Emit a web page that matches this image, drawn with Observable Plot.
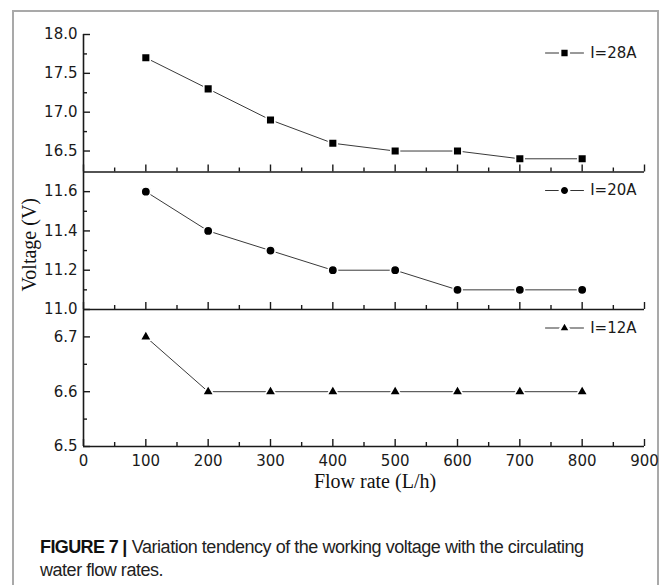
<!DOCTYPE html>
<html>
<head>
<meta charset="utf-8">
<script src="https://cdn.jsdelivr.net/npm/d3@7"></script>
<script src="https://cdn.jsdelivr.net/npm/@observablehq/plot@0.6"></script>
<style>
  html, body { margin: 0; padding: 0; background: #fff; }
  #fig { position: relative; width: 665px; height: 585px; overflow: hidden; background: #fff; }
  #frame { position: absolute; left: 12px; top: 10px; width: 647px; height: 620px;
           border: 2px solid #a9a9a9; box-sizing: border-box; }
  #fig svg { position: absolute; left: 0; top: 0; }
  #caption { position: absolute; left: 40px; top: 536px; width: 620px;
             font-family: "Liberation Sans", Arial, sans-serif;
             font-size: 18px; line-height: 23px; color: #222; letter-spacing: -0.47px; }
  #caption b { font-weight: bold; color: #111; font-size: 18px; letter-spacing: -0.6px; }
  #caption .bar { font-weight: bold; color: #111; margin: 0 5px 0 4px; }
</style>
</head>
<body>
<div id="fig">
  <div id="frame"></div>
  <div id="caption"><b>FIGURE 7</b><span class="bar">|</span>Variation tendency of the working voltage with the circulating<br>water flow rates.</div>
</div>
<script>
// Flow rate (L/h) at which the voltage was measured
const flowRates = [100, 200, 300, 400, 500, 600, 700, 800];

// Working voltage (V) for each current
const volt28A = [17.7, 17.3, 16.9, 16.6, 16.5, 16.5, 16.4, 16.4];
const volt20A = [11.6, 11.4, 11.3, 11.2, 11.2, 11.1, 11.1, 11.1];
const volt12A = [6.7, 6.6, 6.6, 6.6, 6.6, 6.6, 6.6, 6.6];

// Series labels and marker symbols
const seriesLabels = ["I=28A", "I=20A", "I=12A"];
const seriesSymbols = ["square", "circle", "triangle"];

// Y-axis ranges and tick values of the three stacked panels
const yDomains = [[16.23, 18.0], [11.0, 11.7], [6.5, 6.75]];
const yMajorTicks = [[16.5, 17.0, 17.5, 18.0], [11.0, 11.2, 11.4, 11.6], [6.5, 6.6, 6.7]];
const yMinorTicks = [[16.75, 17.25, 17.75], [11.1, 11.3, 11.5], [6.55, 6.65]];
const yTickFormats = [".1f", ".1f", ".1f"];

// X-axis range and ticks
const xDomain = [0, 900];
const xMajorTicks = [0, 100, 200, 300, 400, 500, 600, 700, 800, 900];
const xMinorTicks = [50, 150, 250, 350, 450, 550, 650, 750, 850];

const xLabel = "Flow rate (L/h)";
const yLabel = "Voltage (V)";

const seriesValues = [volt28A, volt20A, volt12A];

// Page layout: every panel is a full-page transparent SVG whose frame
// is one horizontal band of the stacked chart.
const W = 665, H = 585;
const bandEdges = [34, 171.5, 309, 446];
const markerR = { square: 4.9, circle: 4.7, triangle: 4.3 };

const sansFont = '"DejaVu Sans", Verdana, sans-serif';
const serifFont = '"Liberation Serif", "Times New Roman", serif';
const ink = "#1a1a1a";

// Straight line segment for the legend sample
const legendDash = { draw(context, l) { context.moveTo(0, 0); context.lineTo(0, -l); } };

const fig = document.getElementById("fig");

seriesValues.forEach((vals, i) => {
  const rows = flowRates.map((f, j) => ({ flow: f, volt: vals[j] }));
  const isBottom = i === seriesValues.length - 1;
  const sym = seriesSymbols[i];

  const marks = [
    // axis lines (left and bottom of each band)
    Plot.ruleX([xDomain[0]], { stroke: ink, strokeWidth: 1.6 }),
    Plot.ruleY([yDomains[i][0]], { stroke: ink, strokeWidth: 1.6 }),
    // y ticks pointing inward, labels on the outside
    Plot.axisY({ ticks: yMajorTicks[i], tickSize: -7, tickPadding: 13, strokeWidth: 1.4,
                 tickFormat: d3.format(yTickFormats[i]), label: null, color: ink }),
    Plot.axisY({ ticks: yMinorTicks[i], tickSize: -4, strokeWidth: 1.4, tickFormat: () => "", label: null }),
    // x ticks pointing inward; labels only under the lowest band
    Plot.axisX({ ticks: xMajorTicks, tickSize: -7, tickPadding: isBottom ? 16 : 0, strokeWidth: 1.4,
                 tickFormat: isBottom ? (d => String(d)) : () => "", label: null, color: ink }),
    Plot.axisX({ ticks: xMinorTicks, tickSize: -4, strokeWidth: 1.4, tickFormat: () => "", label: null }),
    // data
    Plot.line(rows, { x: "flow", y: "volt", stroke: "#3a3a3a", strokeWidth: 1 }),
    Plot.dot(rows, { x: "flow", y: "volt", symbol: () => sym, r: markerR[sym],
                     fill: "#000", stroke: "#fff", strokeWidth: 1.6 }),
    // legend sample in the upper-right corner
    Plot.vector([seriesLabels[i]], { frameAnchor: "top-right", dx: -80, dy: 18.5, rotate: 90,
                     length: 38, anchor: "middle", shape: legendDash, stroke: "#333", strokeWidth: 1 }),
    Plot.dot([seriesLabels[i]], { frameAnchor: "top-right", dx: -80, dy: 18.5, symbol: () => sym,
                     r: markerR[sym], fill: "#000", stroke: "#fff", strokeWidth: 2.4 }),
    Plot.text([seriesLabels[i]], { frameAnchor: "top-right", dx: -8, dy: 18.5, textAnchor: "end",
                     lineAnchor: "middle", fontSize: 15, fill: ink })
  ];

  if (i === 1) {
    marks.push(Plot.text([yLabel], { frameAnchor: "left", dx: -54, dy: 4, rotate: -90,
                     textAnchor: "middle", lineAnchor: "middle",
                     fontFamily: serifFont, fontSize: 20, fill: "#111" }));
  }
  if (isBottom) {
    marks.push(Plot.text([xLabel], { frameAnchor: "bottom", dx: 11, dy: 35,
                     textAnchor: "middle", lineAnchor: "middle",
                     fontFamily: serifFont, fontSize: 20, fill: "#111" }));
  }

  const svg = Plot.plot({
    width: W,
    height: H,
    marginLeft: 83,
    marginRight: 21,
    marginTop: bandEdges[i],
    marginBottom: H - bandEdges[i + 1],
    x: { domain: xDomain },
    y: { domain: yDomains[i] },
    style: { background: "transparent", fontFamily: sansFont, fontSize: "15px", color: ink, overflow: "visible" },
    marks
  });
  fig.appendChild(svg);
});
</script>
</body>
</html>
